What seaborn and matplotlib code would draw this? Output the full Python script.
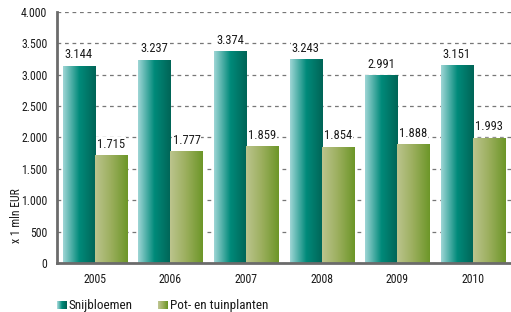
import numpy as np
import pandas as pd
import matplotlib
matplotlib.use('Agg')
import matplotlib.pyplot as plt
from matplotlib.colors import LinearSegmentedColormap
from matplotlib.legend_handler import HandlerBase
from matplotlib.patches import Rectangle
import seaborn as sns

years = ['2005', '2006', '2007', '2008', '2009', '2010']
snijbloemen = [3144, 3237, 3374, 3243, 2991, 3151]
pot_tuin = [1715, 1777, 1859, 1854, 1888, 1993]
series = ['Snijbloemen', 'Pot- en tuinplanten']
yticks = [0, 500, 1000, 1500, 2000, 2500, 3000, 3500, 4000]
ytick_labels = ['0', '500', '1.000', '1.500', '2.000', '2.500', '3.000', '3.500', '4.000']

df = pd.DataFrame({
    'jaar': years * 2,
    'serie': [series[0]] * len(years) + [series[1]] * len(years),
    'waarde': snijbloemen + pot_tuin,
})

sns.set_theme(style='white')
plt.rcParams['font.family'] = ['Roboto Condensed', 'DejaVu Sans']

teal_cmap = LinearSegmentedColormap.from_list('teal', ['#9fd6d6', '#008a7a', '#006456'])
green_cmap = LinearSegmentedColormap.from_list('green', ['#bcc48e', '#9aae5c', '#6c9628'])

fig = plt.figure(figsize=(5.11, 3.12), dpi=100)
ax = fig.add_axes([0.1115, 0.157, 0.888, 0.805])

sns.barplot(data=df, x='jaar', y='waarde', hue='serie', palette=['#2e9a8e', '#9aae5c'],
            width=0.85, gap=0, ax=ax, legend=False, saturation=1)

ax.set_ylim(0, 4000)
ax.set_xlim(-0.5, 5.5)

# gradient fill for each bar
grad = np.linspace(0, 1, 256).reshape(1, -1)
for i, p in enumerate(ax.patches):
    cmap = teal_cmap if i < len(years) else green_cmap
    x0, w, h = p.get_x(), p.get_width(), p.get_height()
    im = ax.imshow(grad, cmap=cmap, aspect='auto', extent=[x0, x0 + w, 0, h],
                   zorder=p.get_zorder() + 0.1)
    im.set_clip_path(p)

values = snijbloemen + pot_tuin
for i, p in enumerate(ax.patches):
    ax.text(p.get_x() + p.get_width() / 2, p.get_height() + 70,
            f'{values[i] / 1000:.3f}', ha='center', va='bottom', fontsize=9, color='#1a1a1a',
            bbox=dict(facecolor='white', edgecolor='none', pad=0.6), zorder=5)

ax.set_yticks(yticks)
ax.set_yticklabels(ytick_labels)
ax.yaxis.grid(True, linestyle=(0, (3, 3)), color='#777777', linewidth=0.9)
ax.set_axisbelow(True)

ax.set_xticks(range(len(years)))
ax.set_xticklabels(years)
ax.set_xticks(np.arange(0.5, len(years) - 0.5, 1), minor=True)
ax.tick_params(axis='x', which='major', length=0, pad=7, labelsize=8.5, labelcolor='#1a1a1a')
ax.tick_params(axis='x', which='minor', length=4, width=1.2, color='#666666', direction='inout')
ax.tick_params(axis='y', length=6, width=1.2, color='#666666', direction='inout',
               labelsize=8.5, pad=4, labelcolor='#1a1a1a')

for s in ['top', 'right']:
    ax.spines[s].set_visible(False)
for s in ['left', 'bottom']:
    ax.spines[s].set_color('#6b6b6b')
    ax.spines[s].set_linewidth(2)

ax.set_xlabel('')
ax.set_ylabel('x 1 mln EUR', fontsize=8.5, color='#1a1a1a')
ax.yaxis.set_label_coords(-0.075, 0.19)


class GradientHandler(HandlerBase):
    def __init__(self, cmap):
        super().__init__()
        self.cmap = cmap

    def create_artists(self, legend, orig_handle, xdescent, ydescent, width, height, fontsize, trans):
        n = 10
        arts = []
        for k in range(n):
            r = Rectangle((xdescent + k * width / n, ydescent), width / n + 0.3, height,
                          facecolor=self.cmap(k / (n - 1)), edgecolor='none', transform=trans)
            arts.append(r)
        return arts


h1 = Rectangle((0, 0), 1, 1)
h2 = Rectangle((0, 0), 1, 1)
fig.legend([h1, h2], series, loc='lower left', bbox_to_anchor=(0.111, 0.0), ncol=2,
           frameon=False, fontsize=9.5, handlelength=0.76, handleheight=0.6, handletextpad=0.15,
           columnspacing=1.9, labelcolor='#1a1a1a', borderpad=0, borderaxespad=0,
           handler_map={h1: GradientHandler(teal_cmap), h2: GradientHandler(green_cmap)})

fig.savefig('out.png', dpi=100)
